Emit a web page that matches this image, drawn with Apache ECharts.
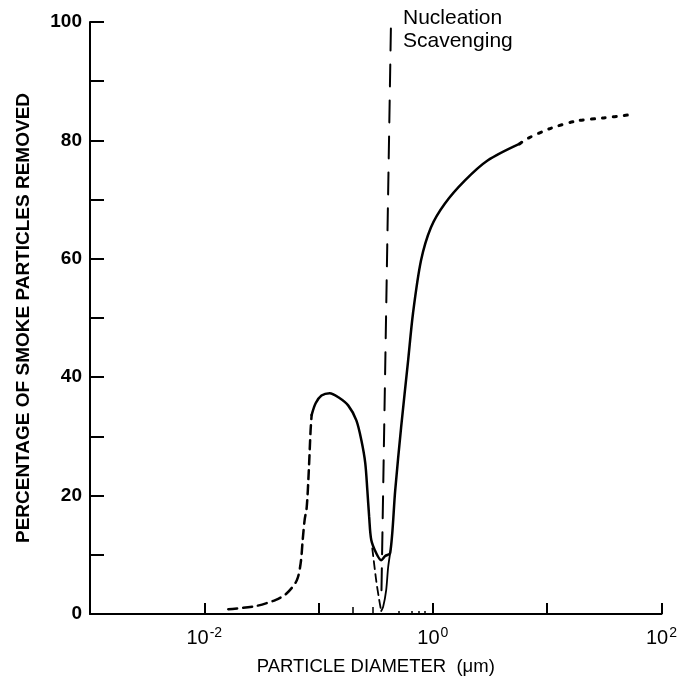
<!DOCTYPE html>
<html>
<head>
<meta charset="utf-8">
<script src="https://cdn.jsdelivr.net/npm/echarts@6/dist/echarts.min.js"></script>
<style>html,body{margin:0;padding:0;background:#fff}#c{width:680px;height:690px}</style>
</head>
<body>
<div id="c"></div>
<script>
// Left dashed rise (particle diameter in µm, % removed)
const leftDashX = [0.0162, 0.0283, 0.0423, 0.0527, 0.0645, 0.0697, 0.0726, 0.0755, 0.0787, 0.0819, 0.0851, 0.0869];
const leftDashY = [0.8, 1.35, 2.4, 3.5, 5.7, 8.6, 12.5, 15.9, 18.0, 23.8, 31.0, 33.6];
// Main solid curve (hump, dip to ~9 %, rise)
const mainX = [0.0869, 0.0942, 0.106, 0.125, 0.149, 0.182, 0.214, 0.237, 0.256, 0.267, 0.277, 0.289, 0.319, 0.353, 0.383, 0.423, 0.468, 0.527, 0.607, 0.670, 0.787, 0.961, 1.27, 1.90, 3.01, 5.71];
const mainY = [33.6, 35.6, 36.9, 37.3, 36.6, 35.2, 32.7, 29.3, 25.5, 20.9, 16.4, 12.5, 10.3, 9.1, 9.8, 10.3, 20.9, 31.5, 42.8, 50.8, 59.7, 65.3, 69.3, 73.2, 76.6, 79.4];
// Inner branch dipping to ~0 %
const innerLeftX = [0.295, 0.319, 0.339, 0.353];
const innerLeftY = [11.1, 5.7, 2.4, 0.5];
const innerRightX = [0.353, 0.367, 0.390, 0.406, 0.423];
const innerRightY = [0.5, 1.2, 4.0, 7.9, 10.3];
// Dotted extrapolation at large diameters
const dotX = [5.71, 6.70, 10.6, 18.2, 31.3, 51.6];
const dotY = [79.4, 80.3, 82.0, 83.3, 83.8, 84.3];
// Nucleation scavenging marker line
const nucX = [0.355, 0.43];
const nucY = [4.0, 100];
// Axis ticks
const decadeTicks = [0.001, 0.01, 0.1, 1, 10, 100];
const xLabelValues = [0.01, 1, 100];
const minorTicks = [0.2, 0.3];
const tinyTicks = [0.5, 0.65, 0.75, 0.85];

const zip = (xs, ys) => xs.map((x, i) => [x, ys[i]]);
const FONT = '"Liberation Sans", Arial, Helvetica, sans-serif';

const chart = echarts.init(document.getElementById('c'), null, {renderer: 'canvas'});
const baseLine = (data, dash, width, smooth) => ({
  type: 'line', data, symbol: 'none', smooth: smooth, animation: false,
  lineStyle: {color: '#000', width: width, type: dash, cap: 'round'}
});
const hiddenX = (ticks, len) => ({
  type: 'log', logBase: 10, min: 0.001, max: 100, gridIndex: 0, position: 'bottom',
  axisLine: {show: false}, splitLine: {show: false}, axisLabel: {show: false},
  axisTick: {show: true, inside: true, length: len, customValues: ticks, lineStyle: {color: '#000', width: 1.5}}
});

chart.setOption({
  backgroundColor: '#fff',
  animation: false,
  grid: {left: 90, right: 15, top: 22, bottom: 76},
  xAxis: [{
    type: 'log', logBase: 10, min: 0.001, max: 100,
    name: 'PARTICLE DIAMETER  (\u03bcm)', nameLocation: 'middle', nameGap: 43,
    nameTextStyle: {fontFamily: FONT, fontSize: 18.5, color: '#000'},
    axisLine: {lineStyle: {color: '#000', width: 2}},
    axisTick: {inside: true, length: 11, customValues: decadeTicks, lineStyle: {color: '#000', width: 2}},
    splitLine: {show: false},
    axisLabel: {
      customValues: xLabelValues, margin: 12, color: '#000',
      formatter: v => '{b|10}{s|' + Math.round(Math.log10(v)) + '}',
      rich: {
        b: {fontFamily: FONT, fontSize: 20, color: '#000'},
        s: {fontFamily: FONT, fontSize: 14, color: '#000', padding: [0, 0, 11, 1]}
      }
    }
  }, hiddenX(minorTicks, 7), hiddenX(tinyTicks, 3)],
  yAxis: {
    type: 'value', min: 0, max: 100, interval: 10,
    name: 'PERCENTAGE OF SMOKE PARTICLES REMOVED', nameLocation: 'middle', nameGap: 57, nameRotate: 90,
    nameTextStyle: {fontFamily: FONT, fontSize: 19, fontWeight: 'bold', color: '#000'},
    axisLine: {show: true, lineStyle: {color: '#000', width: 2}},
    axisTick: {show: true, inside: true, length: 14, lineStyle: {color: '#000', width: 2}},
    splitLine: {show: false},
    axisLabel: {
      margin: 8, color: '#000', fontFamily: FONT, fontSize: 19, fontWeight: 'bold',
      formatter: v => (v % 20 === 0 ? String(v) : '')
    }
  },
  series: [
    baseLine(zip(leftDashX, leftDashY), [9, 6], 2.5, 0.3),
    baseLine(zip(mainX, mainY), 'solid', 2.5, 0.3),
    baseLine(zip(innerLeftX, innerLeftY), [8, 5], 1.8, 0.3),
    baseLine(zip(innerRightX, innerRightY), 'solid', 1.8, 0.3),
    baseLine(zip(dotX, dotY), [3, 8], 3, 0.3),
    baseLine(zip(nucX, nucY), [22, 14], 2, false)
  ],
  graphic: [{
    type: 'text', left: 403, top: 7,
    style: {text: 'Nucleation\nScavenging', font: '21px ' + FONT, fill: '#000', lineHeight: 23}
  }]
});
</script>
</body>
</html>
